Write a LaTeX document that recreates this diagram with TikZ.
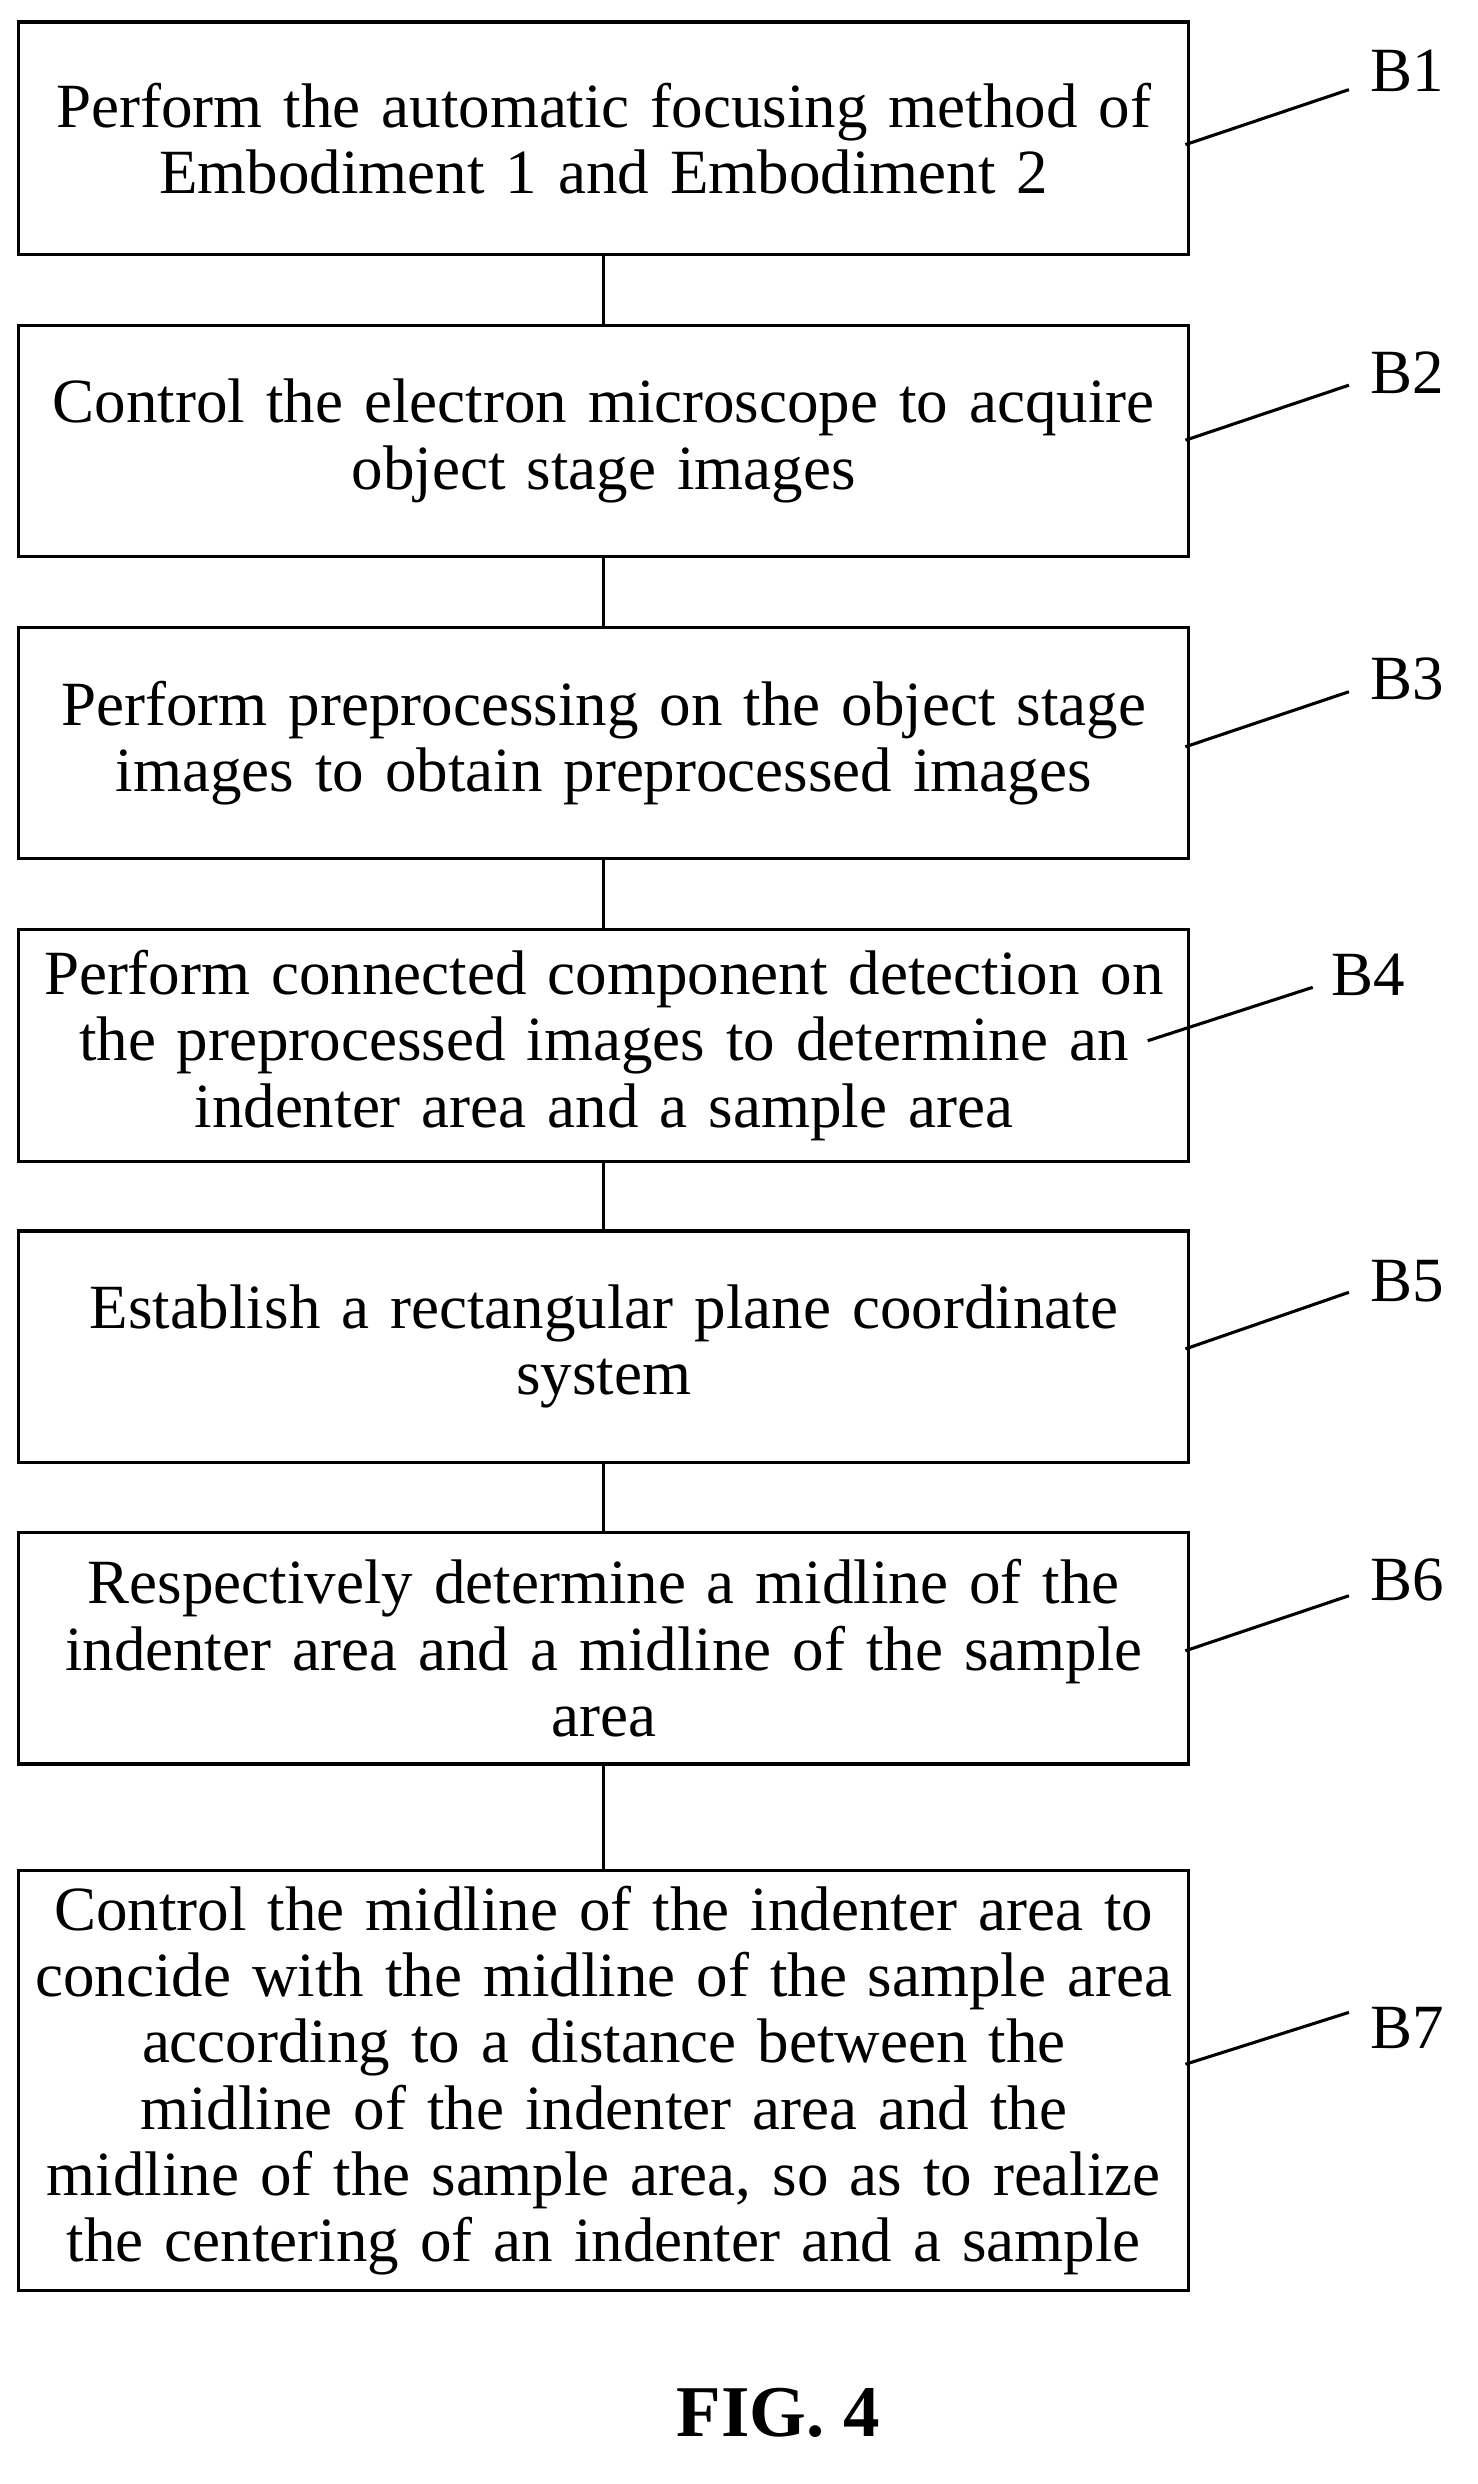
\documentclass[tikz,border=0pt]{standalone}
\usepackage{fontspec}
\setmainfont{Liberation Serif}
\begin{document}
\begin{tikzpicture}[x=0.05cm,y=-0.05cm,
  box/.style={draw,line width=2.8pt,minimum width=37.2cm,inner sep=0pt},
  txt/.style={text width=37.2cm,align=center,font=\fontsize{57}{60}\selectfont,inner sep=0pt},
  lbl/.style={font=\fontsize{57}{60}\selectfont,inner sep=0pt},
  ln/.style={line width=2.8pt}]
\useasboundingbox (0,0) rectangle (940,1580);
\foreach \n/\a/\b in {1/14/162,2/207/354,3/399/546,4/591/739,5/783/930,6/975/1122,7/1190/1457}{
  \node[box,minimum height={(\b-\a)*0.05cm}] (b\n) at (384,{(\a+\b)/2}) {};
}
\node[txt] (t1) at (b1) {Perform the automatic focusing method of\\Embodiment 1 and Embodiment 2};
\node[txt] (t2) at (b2) {Control the electron microscope to acquire\\object stage images};
\node[txt] (t3) at (b3) {Perform preprocessing on the object stage\\images to obtain preprocessed images};
\node[txt] (t4) at (b4) {Perform connected component detection on\\the preprocessed images to determine an\\indenter area and a sample area};
\node[txt] (t5) at (b5) {Establish a rectangular plane coordinate\\system};
\node[txt] (t6) at (b6) {Respectively determine a midline of the\\indenter area and a midline of the sample\\area};
\node[txt] (t7) at (b7) {Control the midline of the indenter area to\\concide with the midline of the sample area\\according to a distance between the\\midline of the indenter area and the\\midline of the sample area, so as to realize\\the centering of an indenter and a sample};
\foreach \i/\j in {1/2,2/3,3/4,4/5,5/6,6/7}{\draw[ln] (b\i.south) -- (b\j.north);}
\node[lbl] (l1) at (895,45) {B1};
\node[lbl] (l2) at (895,237) {B2};
\node[lbl] (l3) at (895,432) {B3};
\node[lbl] (l4) at (870,620) {B4};
\node[lbl] (l5) at (895,815) {B5};
\node[lbl] (l6) at (895,1005) {B6};
\node[lbl] (l7) at (895,1290) {B7};
\coordinate (e1) at (858,57); \coordinate (s1) at (754,92);
\coordinate (e2) at (858,245); \coordinate (s2) at (754,280);
\coordinate (e3) at (858,440); \coordinate (s3) at (754,475);
\coordinate (e4) at (835,628); \coordinate (s4) at (730,662);
\coordinate (e5) at (858,822); \coordinate (s5) at (754,858);
\coordinate (e6) at (858,1015); \coordinate (s6) at (754,1050);
\coordinate (e7) at (858,1280); \coordinate (s7) at (754,1313);
\foreach \i in {1,...,7}{\draw[ln] (s\i) -- (e\i);}
\node[font=\bfseries\fontsize{66}{70}\selectfont,inner sep=0pt] (fig) at (495,1535) {FIG. 4};
\end{tikzpicture}
\end{document}
